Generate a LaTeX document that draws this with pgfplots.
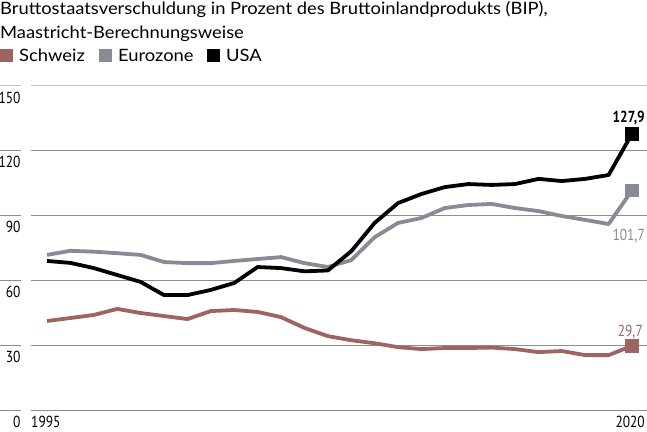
\documentclass[border=0pt]{standalone}
\usepackage{fontspec}
\setmainfont[FakeStretch=1.08]{Lato}
\newfontfamily\condfont[FakeStretch=0.84]{PT Sans}
\usepackage{pgfplots}
\usepackage{pgfplotstable}
\pgfplotsset{compat=1.18}

\definecolor{chcol}{HTML}{9E6461}
\definecolor{eucol}{HTML}{878B96}
\definecolor{gridc}{HTML}{8E8E8E}
\definecolor{gridtop}{HTML}{C4C4C4}

% Bruttostaatsverschuldung in % des BIP
\pgfplotstableread{
year ch   eu    us
1995 41.2 71.8  69.0
1996 42.6 73.7  68.1
1997 44.0 73.3  65.7
1998 46.8 72.6  62.5
1999 44.9 71.8  59.3
2000 43.5 68.5  53.2
2001 42.1 68.0  53.2
2002 45.8 68.0  55.6
2003 46.3 69.0  58.8
2004 45.4 69.9  66.2
2005 43.0 70.8  65.7
2006 38.0 68.0  64.2
2007 34.2 66.2  64.6
2008 32.3 69.4  73.5
2009 30.9 80.0  86.6
2010 29.1 86.6  95.8
2011 28.2 88.9  100.0
2012 28.7 93.5  103.2
2013 28.7 94.9  104.6
2014 28.9 95.4  104.2
2015 28.2 93.5  104.6
2016 26.8 92.1  107.0
2017 27.3 89.8  106.0
2018 25.4 88.0  107.0
2019 25.4 86.1  108.8
2020 29.7 101.7 127.9
}\debt

\begin{document}
\begin{tikzpicture}
\useasboundingbox (0pt,0pt) rectangle (647pt,431pt);

% Titel
\node[anchor=base west,inner sep=0pt,font=\fontsize{17}{20}\selectfont] at (0pt,416pt)
  {Bruttostaatsverschuldung in Prozent des Bruttoinlandprodukts (BIP),};
\node[anchor=base west,inner sep=0pt,font=\fontsize{17}{20}\selectfont] at (0pt,392pt)
  {Maastricht-Berechnungsweise};

% Legende
\begin{scope}[every node/.style={anchor=base west,inner sep=0pt,font=\fontsize{17}{20}\selectfont}]
  \node at (0pt,369pt)   {\textcolor{chcol}{\rule{13pt}{13pt}}};
  \node at (19pt,369pt)  {Schweiz};
  \node at (99pt,369pt)  {\textcolor{eucol}{\rule{13pt}{13pt}}};
  \node at (118pt,369pt) {Eurozone};
  \node at (207pt,369pt) {\rule{13pt}{13pt}};
  \node at (226pt,369pt) {USA};
\end{scope}

\begin{axis}[
  at={(0pt,21pt)}, anchor=south west,
  scale only axis,
  width=647pt, height=324pt,
  xmin=1992.99, xmax=2020.64,
  ymin=0, ymax=150,
  axis line style={draw=none},
  major tick style={draw=none},
  xtick=\empty,
  ytick={0,30,60,90,120},
  extra y ticks={150},
  extra y tick style={grid style={gridtop}},
  ymajorgrids,
  grid style={gridc, line width=1pt, dash pattern=on 20.7pt off 10.3pt on 1000pt},
  /pgf/number format/assume math mode=true,
  yticklabel style={font=\condfont\fontsize{16}{16}\selectfont, anchor=north east,
    inner sep=0pt, text depth=0pt, xshift=20.7pt, yshift=-5.5pt},
  clip=false,
]
\addplot[chcol, line width=3.8pt, line join=round, mark=square*, mark indices={26},
  mark size=6.3pt, mark options={line width=0pt}] table[x=year,y=ch]{\debt};
\addplot[eucol, line width=3.8pt, line join=round, mark=square*, mark indices={26},
  mark size=6.3pt, mark options={line width=0pt}] table[x=year,y=eu]{\debt};
\addplot[black, line width=3.8pt, line join=round, mark=square*, mark indices={26},
  mark size=6.3pt, mark options={line width=0pt}] table[x=year,y=us]{\debt};

\node[anchor=base east, inner sep=0pt, font=\condfont\bfseries\fontsize{16}{16}\selectfont,
  xshift=13pt, yshift=11pt] at (axis cs:2020,127.9) {127,9};
\node[anchor=base east, inner sep=0pt, text=eucol, font=\condfont\fontsize{16}{16}\selectfont,
  xshift=13pt, yshift=-50pt] at (axis cs:2020,101.7) {101,7};
\node[anchor=base east, inner sep=0pt, text=chcol, font=\condfont\fontsize{16}{16}\selectfont,
  xshift=11pt, yshift=9pt] at (axis cs:2020,29.7) {29,7};
\end{axis}

% x-Achsenbeschriftung
\node[anchor=north west,inner sep=0pt,font=\condfont\fontsize{16}{16}\selectfont] at (31pt,15pt) {1995};
\node[anchor=north east,inner sep=0pt,font=\condfont\fontsize{16}{16}\selectfont] at (645pt,15pt) {2020};
\end{tikzpicture}
\end{document}
